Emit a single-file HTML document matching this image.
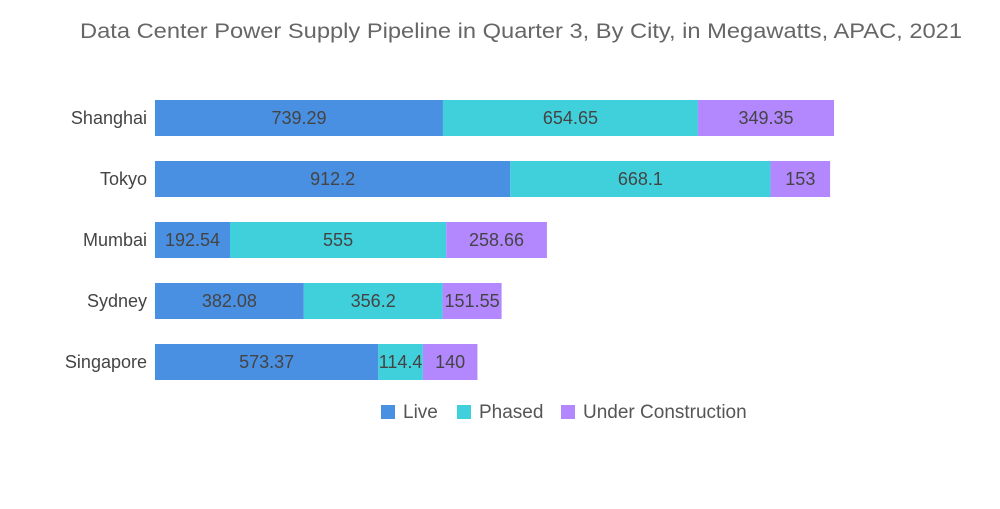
<!DOCTYPE html>
<html><head><meta charset="utf-8"><style>
body{margin:0;background:#fff;font-family:"Liberation Sans",sans-serif;}
svg text{font-family:"Liberation Sans",sans-serif;}
</style></head><body>
<svg id="chart" width="1000" height="504" xmlns="http://www.w3.org/2000/svg">
<text x="521" y="38" text-anchor="middle" font-size="21" textLength="882" lengthAdjust="spacingAndGlyphs" fill="#666">Data Center Power Supply Pipeline in Quarter 3, By City, in Megawatts, APAC, 2021</text>
<g id="bars"></g>
<g id="legend"></g>
</svg>
<script>
const cities=["Shanghai","Tokyo","Mumbai","Sydney","Singapore"];
const live=[739.29,912.2,192.54,382.08,573.37];
const phased=[654.65,668.1,555,356.2,114.4];
const underConstruction=[349.35,153,258.66,151.55,140];
const seriesNames=["Live","Phased","Under Construction"];
const colors=["#4a90e2","#40d0dc","#b388ff"];
const ns="http://www.w3.org/2000/svg";
const x0=155,scale=0.3895,y0=100,band=61,bh=36;
const xPos=v=>x0+v*scale;
const g=document.getElementById('bars');
const series=[live,phased,underConstruction];
cities.forEach((c,i)=>{
  const y=y0+i*band;
  const t=document.createElementNS(ns,'text');
  t.setAttribute('x',147);t.setAttribute('y',y+bh/2+6);t.setAttribute('text-anchor','end');
  t.setAttribute('font-size','18');t.setAttribute('fill','#444');t.textContent=c;
  
  
  g.appendChild(t);
  let acc=0;
  series.forEach((s,k)=>{
    const v=s[i];
    const r=document.createElementNS(ns,'rect');
    r.setAttribute('x',xPos(acc));r.setAttribute('y',y);
    r.setAttribute('width',v*scale);r.setAttribute('height',bh);r.setAttribute('fill',colors[k]);
    
    
    g.appendChild(r);
    const l=document.createElementNS(ns,'text');
    l.setAttribute('x',xPos(acc+v/2));l.setAttribute('y',y+bh/2+6);l.setAttribute('text-anchor','middle');
    l.setAttribute('font-size','18');l.setAttribute('fill','#444');l.textContent=v;
    
    
    g.appendChild(l);
    acc+=v;
  });
});
const lg=document.getElementById('legend');
const lx=[381,457,561];
seriesNames.forEach((n,k)=>{
  const r=document.createElementNS(ns,'rect');
  r.setAttribute('x',lx[k]);r.setAttribute('y',405);r.setAttribute('width',14);r.setAttribute('height',14);r.setAttribute('fill',colors[k]);
  
  
  lg.appendChild(r);
  const t=document.createElementNS(ns,'text');
  t.setAttribute('x',lx[k]+22);t.setAttribute('y',418);t.setAttribute('font-size','19');t.setAttribute('fill','#555');t.textContent=n;
  
  
  lg.appendChild(t);
});
</script>
</body></html>
